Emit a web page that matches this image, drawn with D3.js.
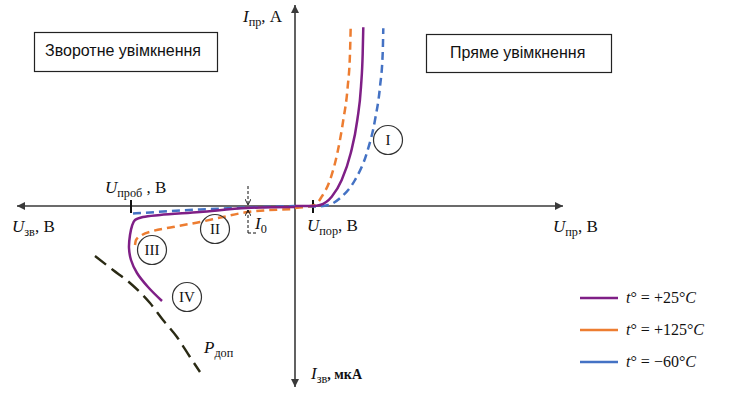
<!DOCTYPE html>
<html><head><meta charset="utf-8">
<script src="https://cdn.jsdelivr.net/npm/d3@7/dist/d3.min.js"></script>
<style>html,body{margin:0;padding:0;background:#fff;}svg{display:block;}</style>
</head><body>
<svg id="c" width="731" height="408"></svg>
<script>
// ---- data (schematic units: U in V-like units, I positive = forward, negative = reverse) ----
const seriesNames = ["t25", "t125", "tm60"];
const legendLabels = ["+25°", "+125°", "−60°"];
const colors = ["#7f1f86", "#ed7d31", "#4472c4"];

// forward branch
const fwdU25  = [0, 1.83, 2.5, 3.67, 4.67, 5.57, 6.23, 6.6, 6.77, 6.83];
const fwdI25  = [0, 0, 0.1, 0.93, 2.6, 5.27, 8.6, 11.93, 15.27, 17.87];
const fwdU125 = [0, 1.0, 2.0, 2.67, 3.5, 4.23, 4.83, 5.27, 5.5, 5.57];
const fwdI125 = [-0.2, -0.1, 0.1, 0.93, 2.6, 5.27, 8.6, 11.93, 15.27, 17.93];
const fwdUm60 = [0, 2.0, 3.33, 4.67, 6.0, 7.17, 8.0, 8.5, 8.77, 8.83];
const fwdIm60 = [-0.05, -0.05, 0.1, 0.93, 2.6, 5.27, 8.6, 11.93, 15.27, 17.77];

// reverse branch
const revU25  = [0, -4.8, -9.5, -13.5, -15.2, -16.0, -16.3, -16.5, -16.6, -16.4, -15.8, -14.7, -13.3];
const revI25  = [-0.1, -0.2, -0.6, -0.9, -1.1, -1.4, -2.0, -2.9, -4.2, -5.4, -6.7, -8.1, -9.5];
const revU125 = [0, -4.7, -7.2, -9.5, -12.2, -14.2, -15.3, -15.9, -16.0];
const revI125 = [-0.3, -0.6, -1.1, -1.6, -2.1, -2.5, -2.9, -3.4, -3.9];
const revUm60 = [0, -4.7, -9.5, -16.2];
const revIm60 = [0, -0.15, -0.35, -0.75];

// permissible power hyperbola
const pDopU = [-20, -18.2, -16.5, -14.5, -13.2, -11.8, -10.5, -9.5];
const pDopI = [-5, -6.4, -7.7, -9.7, -11.4, -13.1, -15.1, -16.6];

// characteristic points
const uPor = 1.8, uProb = -16.4, i0U = -4.7;

// region markers
const regionNames = ["I", "II", "III", "IV"];
const regionU = [9.3, -8.0, -14.3, -10.8];
const regionI = [6.6, -2.3, -4.4, -9.1];

// ---- drawing ----
const svg = d3.select("#c");
const x = d3.scaleLinear().domain([-27.8, 26.8]).range([17, 563]);
const y = d3.scaleLinear().domain([-18.1, 20.1]).range([387, 5]);
const x0 = x(0), y0 = y(0);
const serif = "'Liberation Serif', 'Times New Roman', serif";
const sans = "'Liberation Sans', Arial, sans-serif";
const axisColor = "#3a3a3a";

const defs = svg.append("defs");
defs.append("marker").attr("id", "arr").attr("viewBox", "0 0 10 10")
  .attr("refX", 10).attr("refY", 5).attr("markerWidth", 10).attr("markerHeight", 8)
  .attr("markerUnits", "userSpaceOnUse").attr("orient", "auto")
  .append("path").attr("d", "M0,0 L10,5 L0,10 Z").attr("fill", axisColor);
defs.append("marker").attr("id", "arrs").attr("viewBox", "0 0 10 10")
  .attr("refX", 10).attr("refY", 5).attr("markerWidth", 6).attr("markerHeight", 6)
  .attr("markerUnits", "userSpaceOnUse").attr("orient", "auto")
  .append("path").attr("d", "M0,0 L10,5 L0,10").attr("fill", "none").attr("stroke", "#111").attr("stroke-width", 1.5);

// axes
svg.append("line").attr("x1", x0).attr("x2", x.range()[1]).attr("y1", y0).attr("y2", y0)
  .attr("stroke", axisColor).attr("stroke-width", 1.6).attr("marker-end", "url(#arr)");
svg.append("line").attr("x1", x0).attr("x2", x.range()[0]).attr("y1", y0).attr("y2", y0)
  .attr("stroke", axisColor).attr("stroke-width", 1.6).attr("marker-end", "url(#arr)");
svg.append("line").attr("x1", x0).attr("x2", x0).attr("y1", y0).attr("y2", y.range()[1])
  .attr("stroke", axisColor).attr("stroke-width", 1.6).attr("marker-end", "url(#arr)");
svg.append("line").attr("x1", x0).attr("x2", x0).attr("y1", y0).attr("y2", y.range()[0])
  .attr("stroke", axisColor).attr("stroke-width", 1.6).attr("marker-end", "url(#arr)");

// ticks
[uPor, uProb].forEach(u => {
  svg.append("line").attr("x1", x(u)).attr("x2", x(u)).attr("y1", y0 - 6).attr("y2", y0 + 7)
    .attr("stroke", "#111").attr("stroke-width", 2);
});

const lineM = d3.line().x(d => x(d[0])).y(d => y(d[1])).curve(d3.curveMonotoneX);
const lineC = d3.line().x(d => x(d[0])).y(d => y(d[1])).curve(d3.curveCatmullRom.alpha(0.5));
const zip = (a, b) => a.map((v, i) => [v, b[i]]);

const fwd = [zip(fwdU25, fwdI25), zip(fwdU125, fwdI125), zip(fwdUm60, fwdIm60)];
const rev = [zip(revU25, revI25), zip(revU125, revI125), zip(revUm60, revIm60)];
const dashes = [null, "8,5", "8,5"];
const order = [2, 1, 0];
order.forEach(k => {
  svg.append("path").attr("d", lineM(fwd[k])).attr("fill", "none")
    .attr("stroke", colors[k]).attr("stroke-width", 2.5).attr("stroke-dasharray", dashes[k]);
  svg.append("path").attr("d", (k === 0 ? lineC : lineM)(k === 0 ? rev[k] : rev[k].slice().reverse())).attr("fill", "none")
    .attr("stroke", colors[k]).attr("stroke-width", 2.5).attr("stroke-dasharray", dashes[k]);
});

// P_доп
svg.append("path").attr("d", lineM(zip(pDopU, pDopI))).attr("fill", "none")
  .attr("stroke", "#2a2a14").attr("stroke-width", 2.4).attr("stroke-dasharray", "14,7");

// I0 marker
const xi = x(i0U);
svg.append("line").attr("x1", xi).attr("x2", xi).attr("y1", y0 - 20).attr("y2", y0 - 1)
  .attr("stroke", "#111").attr("stroke-width", 1).attr("stroke-dasharray", "3,2").attr("marker-end", "url(#arrs)");
svg.append("path").attr("d", `M${xi},${y0 + 27} L${xi},${y0 + 4}`)
  .attr("stroke", "#111").attr("stroke-width", 1).attr("stroke-dasharray", "3,2").attr("fill", "none").attr("marker-end", "url(#arrs)");
svg.append("line").attr("x1", xi).attr("x2", xi + 10).attr("y1", y0 + 27).attr("y2", y0 + 27)
  .attr("stroke", "#111").attr("stroke-width", 1).attr("stroke-dasharray", "3,2");

// math labels
function mlabel(px, py, parts, size) {
  size = size || 17;
  const t = svg.append("text").attr("x", px).attr("y", py).attr("font-family", serif)
    .attr("font-size", size).attr("fill", "#111");
  let shifted = false;
  parts.forEach(p => {
    const ts = t.append("tspan").text(p.t);
    if (p.i) ts.attr("font-style", "italic");
    if (p.b) ts.attr("font-weight", "bold");
    if (p.fs) ts.attr("font-size", p.fs);
    if (p.sub && !shifted) { ts.attr("dy", 4).attr("font-size", size * 0.72); shifted = true; }
    else if (p.sub) { ts.attr("font-size", size * 0.72); }
    else if (shifted) { ts.attr("dy", -4); shifted = false; }
  });
  return t;
}
mlabel(243, 22, [{t: "I", i: true}, {t: "пр", sub: true}, {t: ", A"}]);
mlabel(105, 193, [{t: "U", i: true}, {t: "проб", sub: true}, {t: " , B"}]);
mlabel(12, 232, [{t: "U", i: true}, {t: "зв", sub: true}, {t: ", B"}]);
mlabel(307, 231, [{t: "U", i: true}, {t: "пор", sub: true}, {t: ", B"}]);
mlabel(553, 232, [{t: "U", i: true}, {t: "пр", sub: true}, {t: ", B"}]);
mlabel(311, 379, [{t: "I", i: true}, {t: "зв", sub: true}, {t: ", мкА", b: true, fs: 14}]);
mlabel(204, 353, [{t: "P", i: true}, {t: "доп", sub: true}]);
mlabel(255, 229, [{t: "I", i: true}, {t: "0", sub: true}]);

// region circles
regionNames.forEach((n, i) => {
  svg.append("circle").attr("cx", x(regionU[i])).attr("cy", y(regionI[i])).attr("r", 14.5)
    .attr("fill", "none").attr("stroke", "#333").attr("stroke-width", 1.2);
  svg.append("text").attr("x", x(regionU[i])).attr("y", y(regionI[i]) + 5).attr("text-anchor", "middle")
    .attr("font-family", serif).attr("font-size", 15).attr("fill", "#111").text(n);
});

// boxes
function box(x1, y1, w, h, label, tx) {
  svg.append("rect").attr("x", x1).attr("y", y1).attr("width", w).attr("height", h)
    .attr("fill", "#fff").attr("stroke", "#222").attr("stroke-width", 1.2);
  svg.append("text").attr("x", tx).attr("y", y1 + 23).attr("font-family", sans)
    .attr("font-size", 16).attr("fill", "#111").text(label);
}
box(34.5, 32.5, 183, 39, "Зворотне увімкнення", 45);
box(426.5, 34.5, 185, 38, "Пряме увімкнення", 450);

// legend
const legY = [298, 330, 362];
seriesNames.forEach((s, i) => {
  svg.append("line").attr("x1", 580).attr("x2", 618).attr("y1", legY[i]).attr("y2", legY[i])
    .attr("stroke", colors[i]).attr("stroke-width", 2.5);
  const t = svg.append("text").attr("x", 626).attr("y", legY[i] + 5).attr("font-family", serif)
    .attr("font-size", 16).attr("fill", "#111");
  t.append("tspan").attr("font-style", "italic").text("t");
  t.append("tspan").text("° = " + legendLabels[i]);
  t.append("tspan").attr("font-style", "italic").text("C");
});
</script>
</body></html>
